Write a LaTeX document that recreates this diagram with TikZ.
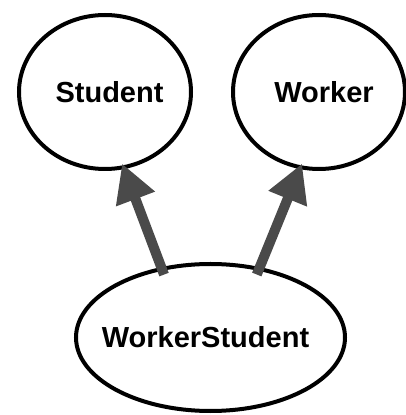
\documentclass[tikz,border=0pt]{standalone}
\usepackage{fontspec}
\setmainfont{Liberation Sans}
\usetikzlibrary{positioning,shapes.geometric,arrows.meta}
\definecolor{arrowgray}{RGB}{74,74,74}

\begin{document}
\begin{tikzpicture}[x=1pt, y=1pt,
    cls/.style = {draw, ellipse, line width=4pt, inner sep=0pt, minimum width=172pt, minimum height=154pt, font=\fontsize{29}{34}\selectfont\bfseries},
    isa/.style = {draw=arrowgray, line width=10pt, -{Triangle[length=38pt, width=39pt]}, shorten <=-8pt, shorten >=-6pt}]
    \useasboundingbox (0,0) rectangle (406,415);
    \node[cls] (student) at (105,323) {\hspace{9pt}Student};
    \node[cls] (worker) [right = 38pt of student] {\hspace{10pt}Worker};
    \node[cls, minimum width=269pt, minimum height=147pt] (ws) at (210.5,77.5) {\makebox[0pt]{WorkerStudent\hspace{10pt}}};
    \draw[isa] (ws.125) -- (student.284);
    \draw[isa] (ws.55) -- (worker.256);
\end{tikzpicture}
\end{document}
